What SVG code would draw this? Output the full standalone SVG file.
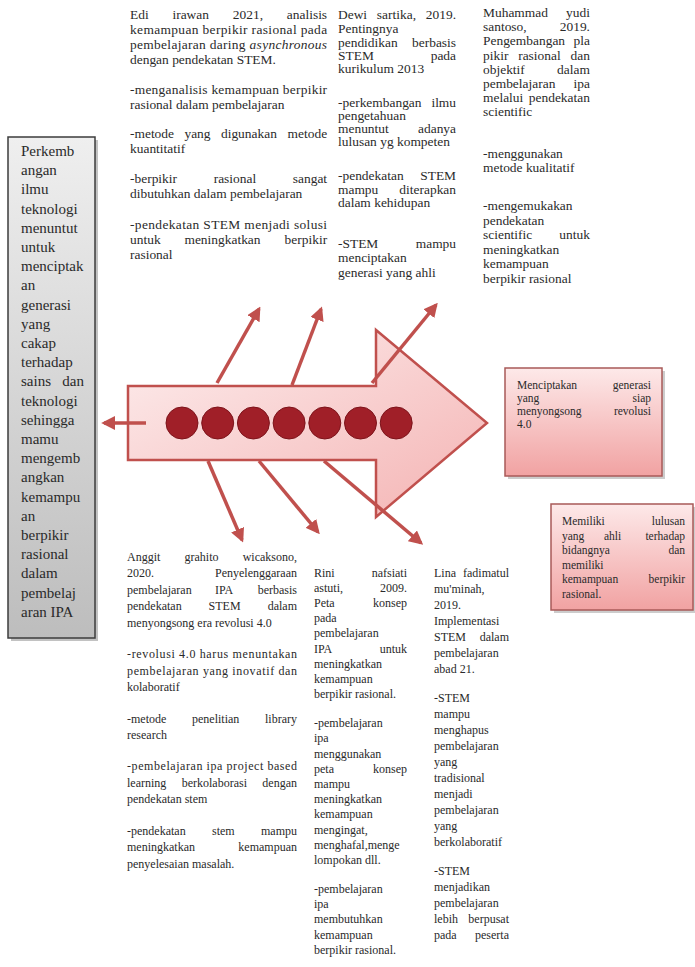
<svg xmlns="http://www.w3.org/2000/svg" width="695" height="967" viewBox="0 0 695 967">
<defs>
<style>
.t{font-family:"Liberation Serif","Times New Roman",serif;font-size:12px;fill:#2a2a2a}
.lb{font-size:15px}
.rb{font-size:11.5px}
.e{text-anchor:end}
.i{font-style:italic}
.con{stroke:#c0504d;stroke-width:3.5;fill:none;marker-end:url(#ah)}
.dot{fill:#a01f28;stroke:#7d141b;stroke-width:1}
</style>
<linearGradient id="gGray" x1="0" y1="0" x2="0" y2="1"><stop offset="0" stop-color="#efefef"/><stop offset="1" stop-color="#bdbdbd"/></linearGradient>
<linearGradient id="gPink" x1="0" y1="0" x2="0" y2="1"><stop offset="0" stop-color="#fde9e9"/><stop offset="1" stop-color="#f1a2a2"/></linearGradient>
<linearGradient id="gArrow" x1="0" y1="0" x2="1" y2="1"><stop offset="0" stop-color="#fdeeee"/><stop offset="1" stop-color="#f4b3b3"/></linearGradient>
<marker id="ah" viewBox="0 0 10 10" refX="8" refY="5" markerWidth="4" markerHeight="4" orient="auto"><path d="M0,0 L10,5 L0,10 Z" fill="#c0504d"/></marker>
</defs>
<rect width="695" height="967" fill="#ffffff"/>

<g id="spine">
<path d="M128,386 L376,386 L376,330 L487,423 L376,517 L376,460 L128,460 Z" fill="url(#gArrow)" stroke="#c0504d" stroke-width="2.5"/>
<circle class="dot" cx="182" cy="423" r="16"/>
<circle class="dot" cx="217.7" cy="423" r="16"/>
<circle class="dot" cx="253.4" cy="423" r="16"/>
<circle class="dot" cx="289.1" cy="423" r="16"/>
<circle class="dot" cx="324.8" cy="423" r="16"/>
<circle class="dot" cx="360.5" cy="423" r="16"/>
<circle class="dot" cx="396.2" cy="423" r="16"/>
</g>

<g id="connectors">
<line class="con" x1="217" y1="383" x2="259" y2="309"/>
<line class="con" x1="292" y1="385" x2="321" y2="309"/>
<line class="con" x1="372" y1="383" x2="436" y2="305"/>
<line class="con" x1="208" y1="461" x2="242" y2="540"/>
<line class="con" x1="259" y1="461" x2="318" y2="532"/>
<line class="con" x1="324" y1="461" x2="421" y2="543"/>
<line class="con" x1="146" y1="423" x2="104" y2="423"/>
</g>

<g id="node-problem">
<rect x="11" y="140" width="87" height="501" fill="#9a9a9a" opacity="0.6"/>
<rect x="8" y="137" width="87" height="501" fill="url(#gGray)" stroke="#3c3c3c" stroke-width="1.5"/>
<text class="t lb" x="21" y="156">Perkemb<tspan x="21" dy="19.2">angan</tspan><tspan x="21" dy="19.2">ilmu</tspan><tspan x="21" dy="19.2">teknologi</tspan><tspan x="21" dy="19.2">menuntut</tspan><tspan x="21" dy="19.2">untuk</tspan><tspan x="21" dy="19.2">menciptak</tspan><tspan x="21" dy="19.2">an</tspan><tspan x="21" dy="19.2">generasi</tspan><tspan x="21" dy="19.2">yang</tspan><tspan x="21" dy="19.2">cakap</tspan><tspan x="21" dy="19.2">terhadap</tspan><tspan x="21" dy="19.2">sains </tspan><tspan x="84" class="e">dan</tspan><tspan x="21" dy="19.2">teknologi</tspan><tspan x="21" dy="19.2">sehingga</tspan><tspan x="21" dy="19.2">mamu</tspan><tspan x="21" dy="19.2">mengemb</tspan><tspan x="21" dy="19.2">angkan</tspan><tspan x="21" dy="19.2">kemampu</tspan><tspan x="21" dy="19.2">an</tspan><tspan x="21" dy="19.2">berpikir</tspan><tspan x="21" dy="19.2">rasional</tspan><tspan x="21" dy="19.2">dalam</tspan><tspan x="21" dy="19.2">pembelaj</tspan><tspan x="21" dy="19.2">aran IPA</tspan></text>
</g>

<g id="node-goal1">
<rect x="508" y="371" width="157" height="108" fill="#9a9a9a" opacity="0.5"/>
<rect x="505" y="368" width="157" height="108" fill="url(#gPink)" stroke="#a85a58" stroke-width="1.5"/>
<text class="t rb" y="388.5"><tspan x="517">Menciptakan </tspan><tspan x="651" class="e">generasi</tspan></text>
<text class="t rb" y="401.5"><tspan x="517">yang </tspan><tspan x="651" class="e">siap</tspan></text>
<text class="t rb" y="414.5"><tspan x="517">menyongsong </tspan><tspan x="651" class="e">revolusi</tspan></text>
<text class="t rb" x="517" y="427.5">4.0</text>
</g>

<g id="node-goal2">
<rect x="554" y="507" width="141" height="106" fill="#9a9a9a" opacity="0.5"/>
<rect x="551" y="504" width="142" height="106" fill="url(#gPink)" stroke="#a85a58" stroke-width="1.5"/>
<text class="t rb" y="525"><tspan x="562">Memiliki </tspan><tspan x="685" class="e">lulusan</tspan></text>
<text class="t rb" y="539.5"><tspan x="562">yang </tspan><tspan x="604">ahli </tspan><tspan x="685" class="e">terhadap</tspan></text>
<text class="t rb" y="554"><tspan x="562">bidangnya </tspan><tspan x="685" class="e">dan</tspan></text>
<text class="t rb" x="562" y="568.5">memiliki</text>
<text class="t rb" y="583"><tspan x="562">kemampuan </tspan><tspan x="685" class="e">berpikir</tspan></text>
<text class="t rb" x="562" y="597.5">rasional.</text>
</g>

<g id="node-cause1" transform="translate(130,0) scale(1.12,1)">
<text class="t" y="19.5"><tspan x="0">Edi </tspan><tspan x="37.9">irawan </tspan><tspan x="91.8">2021, </tspan><tspan x="176" class="e">analisis</tspan></text>
<text class="t" x="0" y="34.5" textLength="176" lengthAdjust="spacing">kemampuan berpikir rasional pada</text>
<text class="t" x="0" y="49.5" textLength="176" lengthAdjust="spacing">pembelajaran daring <tspan class="i">asynchronous</tspan></text>
<text class="t" x="0" y="64.5">dengan pendekatan STEM.</text>
<text class="t" x="0" y="94.5" textLength="176" lengthAdjust="spacing">-menganalisis kemampuan berpikir</text>
<text class="t" x="0" y="109.5">rasional dalam pembelajaran</text>
<text class="t" y="138.5"><tspan x="0">-metode </tspan><tspan x="48.6">yang </tspan><tspan x="81.2">digunakan </tspan><tspan x="176" class="e">metode</tspan></text>
<text class="t" x="0" y="153.5">kuantitatif</text>
<text class="t" y="183.5"><tspan x="0">-berpikir </tspan><tspan x="74.7">rasional </tspan><tspan x="176" class="e">sangat</tspan></text>
<text class="t" x="0" y="198.5">dibutuhkan dalam pembelajaran</text>
<text class="t" x="0" y="229.5" textLength="176" lengthAdjust="spacing">-pendekatan STEM menjadi solusi</text>
<text class="t" y="244.5"><tspan x="0">untuk </tspan><tspan x="48.6">meningkatkan </tspan><tspan x="176" class="e">berpikir</tspan></text>
<text class="t" x="0" y="259.5">rasional</text>
</g>

<g id="node-cause2" transform="translate(338,0) scale(1.12,1)">
<text class="t" y="19.5"><tspan x="0">Dewi </tspan><tspan x="34.7">sartika, </tspan><tspan x="105.4" class="e">2019.</tspan></text>
<text class="t" x="0" y="33.5">Pentingnya</text>
<text class="t" y="47.5"><tspan x="0">pendidikan </tspan><tspan x="105.4" class="e">berbasis</tspan></text>
<text class="t" y="60.5"><tspan x="0">STEM </tspan><tspan x="105.4" class="e">pada</tspan></text>
<text class="t" x="0" y="73.5">kurikulum 2013</text>
<text class="t" y="107.5"><tspan x="0">-perkembangan </tspan><tspan x="105.4" class="e">ilmu</tspan></text>
<text class="t" x="0" y="120.5">pengetahuan</text>
<text class="t" y="133.5"><tspan x="0">menuntut </tspan><tspan x="105.4" class="e">adanya</tspan></text>
<text class="t" x="0" y="146.5">lulusan yg kompeten</text>
<text class="t" y="180.5"><tspan x="0">-pendekatan </tspan><tspan x="105.4" class="e">STEM</tspan></text>
<text class="t" y="194.5"><tspan x="0">mampu </tspan><tspan x="105.4" class="e">diterapkan</tspan></text>
<text class="t" x="0" y="207.5">dalam kehidupan</text>
<text class="t" y="248.5"><tspan x="0">-STEM </tspan><tspan x="105.4" class="e">mampu</tspan></text>
<text class="t" x="0" y="262.5">menciptakan</text>
<text class="t" x="0" y="277.5">generasi yang ahli</text>
</g>

<g id="node-cause3" transform="translate(483,0) scale(1.12,1)">
<text class="t" y="17.5"><tspan x="0">Muhammad </tspan><tspan x="95.5" class="e">yudi</tspan></text>
<text class="t" y="31.5"><tspan x="0">santoso, </tspan><tspan x="95.5" class="e">2019.</tspan></text>
<text class="t" y="45.5"><tspan x="0">Pengembangan </tspan><tspan x="95.5" class="e">pla</tspan></text>
<text class="t" y="60.5"><tspan x="0">pikir </tspan><tspan x="31.4">rasional </tspan><tspan x="95.5" class="e">dan</tspan></text>
<text class="t" y="74.5"><tspan x="0">objektif </tspan><tspan x="95.5" class="e">dalam</tspan></text>
<text class="t" y="88.5"><tspan x="0">pembelajaran </tspan><tspan x="95.5" class="e">ipa</tspan></text>
<text class="t" y="102.5"><tspan x="0">melalui </tspan><tspan x="95.5" class="e">pendekatan</tspan></text>
<text class="t" x="0" y="116.5">scientific</text>
<text class="t" x="0" y="158.5">-menggunakan</text>
<text class="t" x="0" y="172.5">metode kualitatif</text>
<text class="t" x="0" y="210.5">-mengemukakan</text>
<text class="t" x="0" y="225.5">pendekatan</text>
<text class="t" y="239.5"><tspan x="0">scientific </tspan><tspan x="95.5" class="e">untuk</tspan></text>
<text class="t" x="0" y="254.5">meningkatkan</text>
<text class="t" x="0" y="268.5">kemampuan</text>
<text class="t" x="0" y="283.5">berpikir rasional</text>
</g>

<g id="node-cause4">
<text class="t" y="560.5"><tspan x="127">Anggit </tspan><tspan x="184.5">grahito </tspan><tspan x="297" class="e">wicaksono,</tspan></text>
<text class="t" y="577"><tspan x="127">2020. </tspan><tspan x="297" class="e">Penyelenggaraan</tspan></text>
<text class="t" y="593.5"><tspan x="127">pembelajaran </tspan><tspan x="215">IPA </tspan><tspan x="297" class="e">berbasis</tspan></text>
<text class="t" y="610"><tspan x="127">pendekatan </tspan><tspan x="208.6">STEM </tspan><tspan x="297" class="e">dalam</tspan></text>
<text class="t" x="127" y="626.5">menyongsong era revolusi 4.0</text>
<text class="t" x="127" y="658" textLength="170" lengthAdjust="spacing">-revolusi 4.0 harus menuntakan</text>
<text class="t" x="127" y="674.5" textLength="170" lengthAdjust="spacing">pembelajaran yang inovatif dan</text>
<text class="t" x="127" y="691">kolaboratif</text>
<text class="t" y="722.5"><tspan x="127">-metode </tspan><tspan x="192">penelitian </tspan><tspan x="297" class="e">library</tspan></text>
<text class="t" x="127" y="739">research</text>
<text class="t" x="127" y="770" textLength="170" lengthAdjust="spacing">-pembelajaran ipa project based</text>
<text class="t" y="786.5"><tspan x="127">learning </tspan><tspan x="181.7">berkolaborasi </tspan><tspan x="297" class="e">dengan</tspan></text>
<text class="t" x="127" y="803">pendekatan stem</text>
<text class="t" y="834.5"><tspan x="127">-pendekatan </tspan><tspan x="212">stem </tspan><tspan x="297" class="e">mampu</tspan></text>
<text class="t" y="851"><tspan x="127">meningkatkan </tspan><tspan x="297" class="e">kemampuan</tspan></text>
<text class="t" x="127" y="867.5">penyelesaian masalah.</text>
</g>

<g id="node-cause5">
<text class="t" y="576.5"><tspan x="314">Rini </tspan><tspan x="407" class="e">nafsiati</tspan></text>
<text class="t" y="591.7"><tspan x="314">astuti, </tspan><tspan x="407" class="e">2009.</tspan></text>
<text class="t" y="606.9"><tspan x="314">Peta </tspan><tspan x="407" class="e">konsep</tspan></text>
<text class="t" x="314" y="622.1">pada</text>
<text class="t" x="314" y="637.3">pembelajaran</text>
<text class="t" y="652.5"><tspan x="314">IPA </tspan><tspan x="407" class="e">untuk</tspan></text>
<text class="t" x="314" y="667.7">meningkatkan</text>
<text class="t" x="314" y="682.9">kemampuan</text>
<text class="t" x="314" y="698.1">berpikir rasional.</text>
<text class="t" x="314" y="727.1">-pembelajaran</text>
<text class="t" x="314" y="742.3">ipa</text>
<text class="t" x="314" y="757.5">menggunakan</text>
<text class="t" y="772.7"><tspan x="314">peta </tspan><tspan x="407" class="e">konsep</tspan></text>
<text class="t" x="314" y="787.9">mampu</text>
<text class="t" x="314" y="803.1">meningkatkan</text>
<text class="t" x="314" y="818.3">kemampuan</text>
<text class="t" x="314" y="833.5">mengingat,</text>
<text class="t" x="314" y="848.7">menghafal,menge</text>
<text class="t" x="314" y="863.9">lompokan dll.</text>
<text class="t" x="314" y="892.9">-pembelajaran</text>
<text class="t" x="314" y="908.1">ipa</text>
<text class="t" x="314" y="923.3">membutuhkan</text>
<text class="t" x="314" y="938.5">kemampuan</text>
<text class="t" x="314" y="953.7">berpikir rasional.</text>
</g>

<g id="node-cause6">
<text class="t" y="576.5"><tspan x="434">Lina </tspan><tspan x="509" class="e">fadimatul</tspan></text>
<text class="t" x="434" y="592.5">mu'minah,</text>
<text class="t" x="434" y="608.5">2019.</text>
<text class="t" x="434" y="624.5">Implementasi</text>
<text class="t" y="640.5"><tspan x="434">STEM </tspan><tspan x="509" class="e">dalam</tspan></text>
<text class="t" x="434" y="656.5">pembelajaran</text>
<text class="t" x="434" y="672.5">abad 21.</text>
<text class="t" x="434" y="701.5">-STEM</text>
<text class="t" x="434" y="717.5">mampu</text>
<text class="t" x="434" y="733.5">menghapus</text>
<text class="t" x="434" y="749.5">pembelajaran</text>
<text class="t" x="434" y="765.5">yang</text>
<text class="t" x="434" y="781.5">tradisional</text>
<text class="t" x="434" y="797.5">menjadi</text>
<text class="t" x="434" y="813.5">pembelajaran</text>
<text class="t" x="434" y="829.5">yang</text>
<text class="t" x="434" y="845.5">berkolaboratif</text>
<text class="t" x="434" y="874.5">-STEM</text>
<text class="t" x="434" y="890.5">menjadikan</text>
<text class="t" x="434" y="906.5">pembelajaran</text>
<text class="t" y="922.5"><tspan x="434">lebih </tspan><tspan x="509" class="e">berpusat</tspan></text>
<text class="t" y="938.5"><tspan x="434">pada </tspan><tspan x="509" class="e">peserta</tspan></text>
</g>
</svg>
